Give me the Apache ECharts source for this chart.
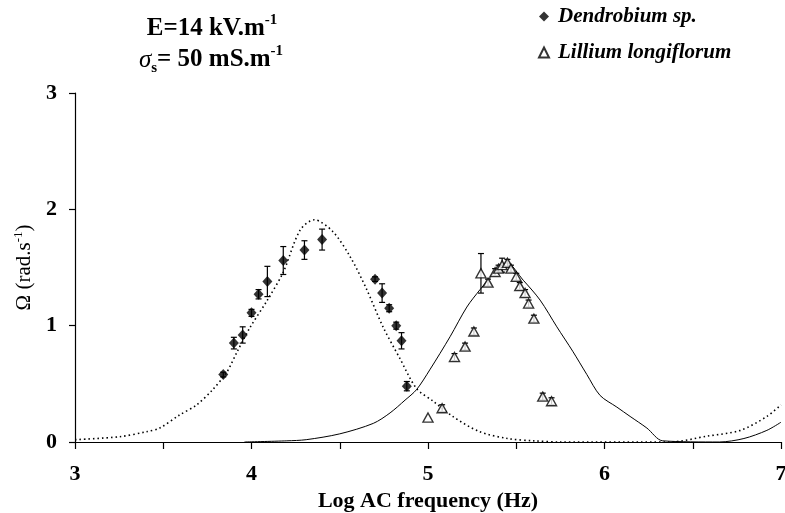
<!DOCTYPE html>
<html>
<head>
<meta charset="utf-8">
<script src="https://cdn.jsdelivr.net/npm/echarts@6/dist/echarts.min.js"></script>
<style>
html,body{margin:0;padding:0;background:#fff;}
#c{width:785px;height:513px;}
</style>
</head>
<body>
<div id="c"></div>
<script>
// ---- data ----
var xTicks = [3, 4, 5, 6, 7];
var yTicks = [0, 1, 2, 3];

var dendName = 'Dendrobium sp.';
var dendX = [3.84, 3.90, 3.95, 4.00, 4.04, 4.09, 4.18, 4.30, 4.40, 4.70, 4.74, 4.78, 4.82, 4.85, 4.88];
var dendY = [0.58, 0.85, 0.92, 1.11, 1.27, 1.38, 1.56, 1.65, 1.74, 1.40, 1.28, 1.15, 1.00, 0.87, 0.48];
var dendErr = [0.02, 0.05, 0.07, 0.03, 0.04, 0.13, 0.12, 0.08, 0.09, 0.02, 0.08, 0.03, 0.03, 0.07, 0.04];

var lilName = 'Lillium longiflorum';
var lilX = [5.00, 5.08, 5.15, 5.21, 5.26, 5.30, 5.34, 5.38, 5.40, 5.42, 5.45, 5.47, 5.50, 5.52, 5.55, 5.57, 5.60, 5.65, 5.70];
var lilY = [0.21, 0.29, 0.73, 0.82, 0.95, 1.45, 1.37, 1.46, 1.49, 1.52, 1.54, 1.49, 1.42, 1.34, 1.28, 1.19, 1.06, 0.39, 0.35];
var lilErr = [0, 0.03, 0.03, 0.03, 0.03, 0.17, 0.03, 0.03, 0.03, 0.06, 0.03, 0.03, 0.03, 0.03, 0.03, 0.03, 0.03, 0.03, 0.03];

// model curves (dotted: Dendrobium, solid: Lillium)
var dotX = [3.0, 3.25, 3.41, 3.48, 3.59, 3.69, 3.78, 3.86, 3.92, 3.99, 4.09, 4.18, 4.275, 4.356, 4.46, 4.56, 4.65, 4.745, 4.84, 4.935, 5.03, 5.14, 5.29, 5.45, 5.6, 5.75, 6.37, 6.58, 6.77, 6.92, 7.0];
var dotY = [0.02, 0.045, 0.09, 0.12, 0.23, 0.32, 0.45, 0.60, 0.78, 0.98, 1.22, 1.46, 1.82, 1.91, 1.81, 1.59, 1.32, 0.99, 0.72, 0.46, 0.35, 0.22, 0.09, 0.03, 0.01, 0, 0, 0.05, 0.10, 0.22, 0.32];
var solX = [3.96, 4.2, 4.31, 4.5, 4.69, 4.785, 4.87, 4.935, 5.01, 5.125, 5.22, 5.295, 5.39, 5.445, 5.54, 5.635, 5.73, 5.82, 5.9, 5.975, 6.07, 6.145, 6.24, 6.33, 6.65, 6.79, 6.92, 7.0];
var solY = [0, 0.01, 0.02, 0.07, 0.16, 0.25, 0.36, 0.45, 0.62, 0.905, 1.16, 1.31, 1.48, 1.54, 1.39, 1.22, 0.99, 0.78, 0.58, 0.40, 0.30, 0.22, 0.12, 0.01, 0, 0.03, 0.10, 0.17];

// ---- build ----
function pairs(xs, ys) { return xs.map(function (x, i) { return [x, ys[i]]; }); }
function errs(xs, ys, es) { return xs.map(function (x, i) { return [x, ys[i] - es[i], ys[i] + es[i]]; }); }

var FONT = '"Liberation Serif", "DejaVu Serif", serif';

function errRender(params, api) {
  var x = api.value(0), lo = api.value(1), hi = api.value(2);
  if (hi - lo <= 0) return null;
  var p1 = api.coord([x, hi]), p2 = api.coord([x, lo]);
  var cw = 3;
  var st = { stroke: '#000', lineWidth: 1.2 };
  return {
    type: 'group',
    children: [
      { type: 'line', shape: { x1: p1[0], y1: p1[1], x2: p2[0], y2: p2[1] }, style: st },
      { type: 'line', shape: { x1: p1[0] - cw, y1: p1[1], x2: p1[0] + cw, y2: p1[1] }, style: st },
      { type: 'line', shape: { x1: p2[0] - cw, y1: p2[1], x2: p2[0] + cw, y2: p2[1] }, style: st }
    ]
  };
}

var chart = echarts.init(document.getElementById('c'), null, { renderer: 'canvas' });
var option = {
  animation: false,
  backgroundColor: '#fff',
  grid: { left: 75, right: 4, top: 93, bottom: 71, containLabel: false, outerBoundsMode: 'none' },
  graphic: [
    {
      type: 'text', x: 212, y: 29,
      style: {
        text: '{a|E=14 kV.m}{sup|-1}',
        align: 'center', verticalAlign: 'middle',
        rich: {
          a: { fontFamily: FONT, fontWeight: 'bold', fontSize: 25, lineHeight: 32, fill: '#000' },
          sup: { fontFamily: FONT, fontWeight: 'bold', fontSize: 15, verticalAlign: 'top', fill: '#000' }
        }
      }
    },
    {
      type: 'text', x: 211, y: 60,
      style: {
        text: '{s|σ}{sub|s}{a|= 50 mS.m}{sup|-1}',
        align: 'center', verticalAlign: 'middle',
        rich: {
          s: { fontFamily: FONT, fontStyle: 'italic', fontSize: 25, lineHeight: 32, fill: '#000' },
          a: { fontFamily: FONT, fontWeight: 'bold', fontSize: 25, lineHeight: 32, fill: '#000' },
          sup: { fontFamily: FONT, fontWeight: 'bold', fontSize: 15, verticalAlign: 'top', fill: '#000' },
          sub: { fontFamily: FONT, fontWeight: 'bold', fontSize: 15, verticalAlign: 'bottom', fill: '#000' }
        }
      }
    }
  ],
  legend: {
    orient: 'vertical', left: 533, top: 1, itemGap: 15, itemWidth: 10, itemHeight: 10,
    data: [{ name: dendName, icon: 'diamond' }, { name: lilName, icon: 'triangle' }],
    textStyle: { fontFamily: FONT, fontStyle: 'italic', fontWeight: 'bold', fontSize: 21, color: '#000', padding: [0, 0, 0, 4] }
  },
  xAxis: {
    type: 'value', min: xTicks[0], max: xTicks[xTicks.length - 1], interval: 1,
    name: 'Log AC frequency (Hz)', nameLocation: 'middle', nameGap: 47,
    nameTextStyle: { fontFamily: FONT, fontWeight: 'bold', fontSize: 22, color: '#000' },
    axisLine: { lineStyle: { color: '#000', width: 1.2 } },
    axisTick: { show: true, length: 7, lineStyle: { color: '#000', width: 1.2 } },
    minorTick: { show: true, splitNumber: 2, length: 7, lineStyle: { color: '#000', width: 1.2 } },
    axisLabel: { fontFamily: FONT, fontWeight: 'bold', fontSize: 22, color: '#000', margin: 21 },
    splitLine: { show: false }
  },
  yAxis: {
    type: 'value', min: yTicks[0], max: yTicks[yTicks.length - 1], interval: 1,
    name: '{a|Ω (rad.s}{sup|-1}{a|)}', nameLocation: 'middle', nameGap: 30, nameRotate: 90,
    nameTextStyle: {
      rich: {
        a: { fontFamily: FONT, fontSize: 21, lineHeight: 26, color: '#000' },
        sup: { fontFamily: FONT, fontSize: 13, verticalAlign: 'top', color: '#000' }
      }
    },
    axisLine: { show: true, lineStyle: { color: '#000', width: 1.2 } },
    axisTick: { show: true, length: 6, lineStyle: { color: '#000', width: 1.2 } },
    axisLabel: { fontFamily: FONT, fontWeight: 'bold', fontSize: 22, color: '#000', margin: 18 },
    splitLine: { show: false }
  },
  series: [
    {
      name: 'dend-model', type: 'line', data: pairs(dotX, dotY), showSymbol: false, smooth: 0.3,
      lineStyle: { color: '#000', width: 1.6, type: [1.5, 3] }, silent: true, z: 1
    },
    {
      name: 'lil-model', type: 'line', data: pairs(solX, solY), showSymbol: false, smooth: 0.3,
      lineStyle: { color: '#000', width: 1 }, silent: true, z: 1
    },
    { name: 'dend-err', type: 'custom', renderItem: errRender, data: errs(dendX, dendY, dendErr), z: 2, silent: true },
    { name: 'lil-err', type: 'custom', renderItem: errRender, data: errs(lilX, lilY, lilErr), z: 2, silent: true },
    {
      name: dendName, type: 'scatter', data: pairs(dendX, dendY), symbol: 'diamond', symbolSize: [10, 11],
      itemStyle: { color: '#000' }, z: 3
    },
    {
      name: lilName, type: 'scatter', data: pairs(lilX, lilY), symbol: 'triangle', symbolSize: [10, 9],
      itemStyle: { color: '#fff', borderColor: '#000', borderWidth: 1.4 }, z: 3
    }
  ]
};
chart.setOption(option);
</script>
</body>
</html>
